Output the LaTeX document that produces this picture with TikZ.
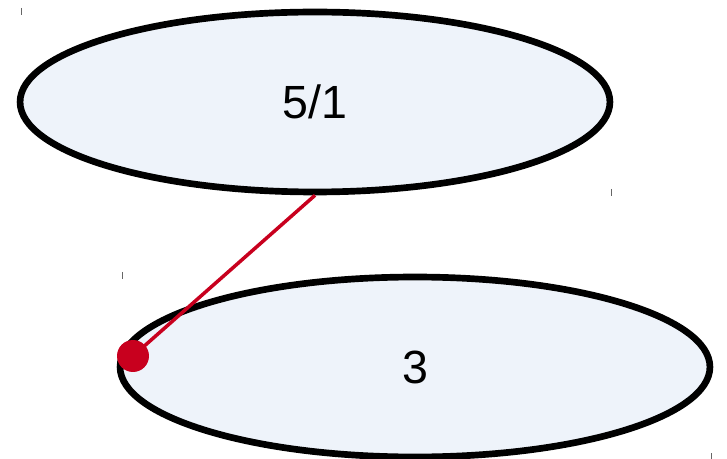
\documentclass[tikz,border=0pt]{standalone}
\usepackage{fontspec}
\setmainfont{Liberation Sans}
\usepackage{xcolor}
\usetikzlibrary{shapes.geometric}
\definecolor{paleblue}{HTML}{EEF3FA}
\definecolor{darkred}{HTML}{C8001E}

\begin{document}
\begin{tikzpicture}[x=0.02cm, y=-0.02cm,
  blob/.style={ellipse, draw=black, line width=3.8pt, fill=paleblue,
    minimum width=11.8cm, minimum height=3.6cm, inner sep=0pt,
    font=\fontsize{26.5}{32}\selectfont},
  tick/.style={draw=black!60, line width=0.5pt}]
  \useasboundingbox (0,0) rectangle (727,459);

  % Ellipsen
  \node[blob] (top) at (315,102) {5/1};
  \node[blob] (bottom) at (415,367) {3};

  % Eckmarken
  \draw[tick] (21,8) -- (21,15);
  \draw[tick] (611,189) -- (611,196);
  \draw[tick] (122,272) -- (122,279);
  \draw[tick] (711,453) -- (711,459);

  % Verbindung
  \node[circle, fill=darkred, minimum size=0.64cm, inner sep=0pt] (dot) at (133,356) {};
  \draw[darkred, line width=2pt] (top.south) -- (dot.center);
\end{tikzpicture}
\end{document}
